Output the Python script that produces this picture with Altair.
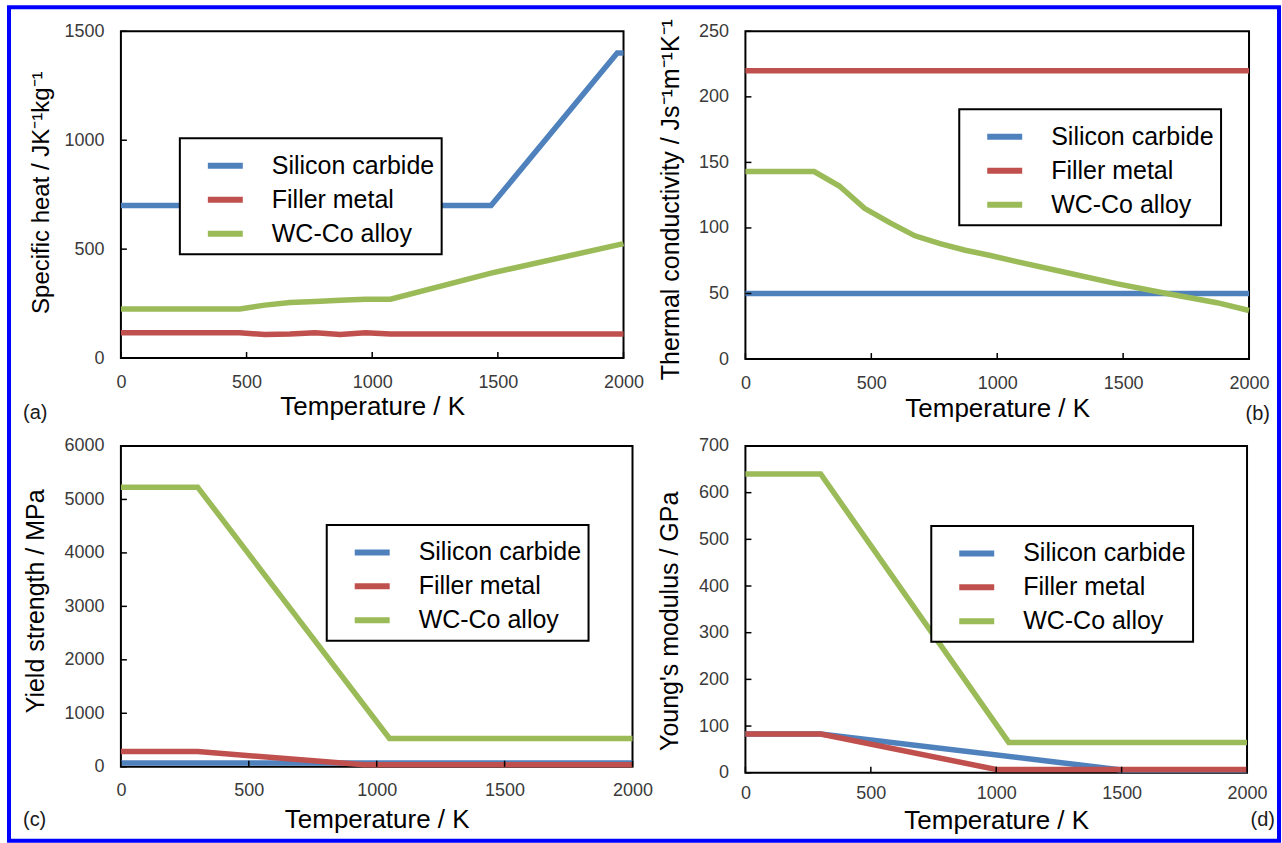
import altair as alt
import pandas as pd

FONT = "Liberation Sans, Arial, sans-serif"

series = ["Silicon carbide", "Filler metal", "WC-Co alloy"]
colors = ["#4F81BD", "#C0504D", "#9BBB59"]

x_ticks = [0, 500, 1000, 1500, 2000]

# (a) Specific heat
a_sic_T = [0, 1473, 1975, 2000]
a_sic_v = [700, 700, 1400, 1400]
a_fill_T = [0, 473, 573, 673, 773, 873, 973, 1073, 2000]
a_fill_v = [116, 116, 108, 110, 116, 108, 116, 110, 110]
a_wc_T = [0, 473, 573, 673, 773, 873, 973, 1073, 1473, 2000]
a_wc_v = [225, 225, 243, 255, 260, 265, 270, 270, 390, 525]
a_y_ticks = [0, 500, 1000, 1500]

# (b) Thermal conductivity
b_sic_T = [0, 2000]
b_sic_v = [50, 50]
b_fill_T = [0, 2000]
b_fill_v = [220, 220]
b_wc_T = [0, 273, 373, 473, 573, 673, 773, 873, 973, 1073, 1273, 1473, 1673, 1873, 2000]
b_wc_v = [143, 143, 132, 115, 104, 94, 88, 83, 79, 74.5, 66, 57.5, 50, 43, 37]
b_y_ticks = [0, 50, 100, 150, 200, 250]

# (c) Yield strength
c_sic_T = [0, 2000]
c_sic_v = [70, 70]
c_fill_T = [0, 300, 950, 2000]
c_fill_v = [285, 285, 35, 35]
c_wc_T = [0, 300, 1050, 2000]
c_wc_v = [5230, 5230, 530, 530]
c_y_ticks = [0, 1000, 2000, 3000, 4000, 5000, 6000]

# (d) Young's modulus
d_sic_T = [0, 300, 1500, 2000]
d_sic_v = [83, 83, 6, 6]
d_fill_T = [0, 300, 1000, 2000]
d_fill_v = [83, 83, 7, 7]
d_wc_T = [0, 300, 1050, 2000]
d_wc_v = [640, 640, 65, 65]
d_y_ticks = [0, 100, 200, 300, 400, 500, 600, 700]

panel_labels = ["(a)", "(b)", "(c)", "(d)"]


def panel(curves, yticks, ytitle, w, h, leg_xy, ytitle_xy, xtitle_y,
          label, label_xy, label_align, ytitle_size=25, xlabel_pad=15, frame=False):
    rows = []
    for name, (T, v) in zip(series, curves):
        for t, val in zip(T, v):
            rows.append({"s": name, "T": t, "v": val})
    df = pd.DataFrame(rows)
    xs = alt.Scale(domain=[0, 2000], nice=False, zero=False)
    ys = alt.Scale(domain=[yticks[0], yticks[-1]], nice=False)
    xaxis = alt.Axis(values=x_ticks, title="Temperature / K", format="d",
                     ticks=False, domain=False, grid=False, labelPadding=xlabel_pad,
                     labelFontSize=18, labelColor="#3a3a3a", labelFont=FONT,
                     labelFlush=False, labelOverlap=False,
                     titleFont=FONT, titleFontSize=26, titleFontWeight="normal",
                     titleColor="black", titleBaseline="alphabetic",
                     titleY=xtitle_y, titleX=w / 2)
    yaxis = alt.Axis(values=yticks, title=ytitle, format="d",
                     ticks=False, domain=False, grid=False, labelPadding=17,
                     labelFontSize=18, labelColor="#3a3a3a", labelFont=FONT,
                     labelOverlap=False,
                     titleFont=FONT, titleFontSize=ytitle_size, titleFontWeight="normal",
                     titleColor="black", titleAngle=270, titleAlign="center",
                     titleBaseline="middle",
                     titleX=ytitle_xy[0], titleY=ytitle_xy[1])
    legend = alt.Legend(title=None, orient="none", legendX=leg_xy[0], legendY=leg_xy[1],
                        fillColor="white", strokeColor="black", padding=7,
                        symbolType="stroke", symbolStrokeWidth=6, symbolSize=1225,
                        symbolOffset=18, labelOffset=26, rowPadding=0,
                        labelFontSize=25, labelFont=FONT, labelColor="black",
                        labelLimit=400)
    layers = []
    for name in series:
        layers.append(
            alt.Chart(df).transform_filter(alt.datum.s == name)
            .mark_line(strokeWidth=5.5)
            .encode(
                x=alt.X("T:Q", scale=xs, axis=xaxis),
                y=alt.Y("v:Q", scale=ys, axis=yaxis),
                color=alt.Color("s:N", scale=alt.Scale(domain=series, range=colors),
                                legend=legend),
            )
        )
    xt = alt.Chart(pd.DataFrame({"T": x_ticks})).mark_rule(color="black", strokeWidth=1.5).encode(
        x=alt.X("T:Q", scale=xs, axis=xaxis), y=alt.value(h), y2=alt.value(h - 6))
    yt = alt.Chart(pd.DataFrame({"v": yticks})).mark_rule(color="black", strokeWidth=1.5).encode(
        y=alt.Y("v:Q", scale=ys, axis=yaxis), x=alt.value(0), x2=alt.value(6))
    lab = alt.Chart(pd.DataFrame({"lab": [label]})).mark_text(
        align=label_align, baseline="middle", fontSize=20, font=FONT, color="#1a1a1a"
    ).encode(x=alt.value(label_xy[0]), y=alt.value(label_xy[1]), text="lab:N")
    all_layers = layers + [xt, yt, lab]
    if frame:
        fr = alt.Chart(pd.DataFrame({"f": [0]})).mark_rect(
            fill="transparent", stroke="#0000ff", strokeWidth=4
        ).encode(x=alt.value(-112), x2=alt.value(1159), y=alt.value(-24), y2=alt.value(810))
        all_layers.append(fr)
    return alt.layer(*all_layers).properties(width=w, height=h)


A = panel([(a_sic_T, a_sic_v), (a_fill_T, a_fill_v), (a_wc_T, a_wc_v)], a_y_ticks,
          "Specific heat  / JK⁻¹kg⁻¹", 503, 327, (59, 107), (-79, 161), 56,
          panel_labels[0], (-98, 382), "left", ytitle_size=24, frame=True)
B = panel([(b_sic_T, b_sic_v), (b_fill_T, b_fill_v), (b_wc_T, b_wc_v)], b_y_ticks,
          "Thermal conductivity / Js⁻¹m⁻¹K⁻¹", 504, 328, (214, 78), (-75, 168), 57,
          panel_labels[1], (525, 383), "right")
C = panel([(c_sic_T, c_sic_v), (c_fill_T, c_fill_v), (c_wc_T, c_wc_v)], c_y_ticks,
          "Yield strength / MPa", 512, 321, (206, 79), (-85, 155), 61,
          panel_labels[2], (-98, 374), "left")
D = panel([(d_sic_T, d_sic_v), (d_fill_T, d_fill_v), (d_wc_T, d_wc_v)], d_y_ticks,
          "Young's modulus / GPa", 502, 327, (186, 80), (-76, 175), 56,
          panel_labels[3], (530, 374), "right", xlabel_pad=12)

chart = alt.concat(
    A, B, C, D, columns=2, bounds="flush",
    spacing={"row": 87, "column": 113},
).resolve_scale(color="independent").properties(
    padding={"left": 6, "top": 4, "right": 0, "bottom": 0},
    background="white",
).configure_view(stroke="black", strokeWidth=2).configure_legend(strokeWidth=2)

chart.save("out.html", embed_options={"renderer": "svg", "actions": False})
